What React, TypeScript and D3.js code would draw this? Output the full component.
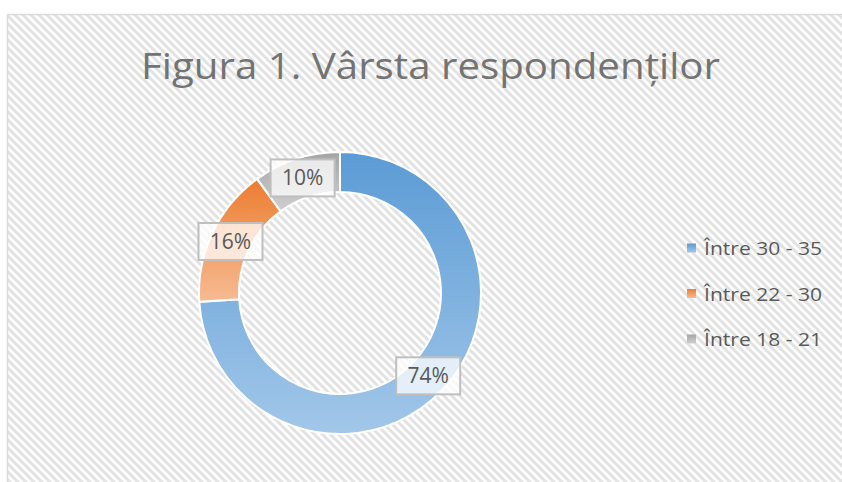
import React from "react";
import * as d3 from "d3";

const categories = ["Între 30 - 35", "Între 22 - 30", "Între 18 - 21"];
const values = [74, 16, 10];
const labels = ["74%", "16%", "10%"];
const colorsTop = ["#5b9bd5", "#ed7d31", "#a5a5a5"];
const colorsBottom = ["#a2c7e9", "#f6bb93", "#cfcfcf"];
const title = "Figura 1. Vârsta respondenților";

const W = 842;
const H = 482;
const cx = 340;
const cy = 293;
const outerR = 141;
const innerR = 101;

export default function App() {
  const pie = d3.pie<number>().sort(null).value((d) => d)(values);
  const arc = d3.arc<d3.PieArcDatum<number>>().innerRadius(innerR).outerRadius(outerR);
  const labelArc = d3
    .arc<d3.PieArcDatum<number>>()
    .innerRadius((innerR + outerR) / 2)
    .outerRadius((innerR + outerR) / 2);
  const legendY = d3.scaleLinear().domain([0, 2]).range([248, 339]);
  const font = "'Open Sans', 'Noto Sans', 'Liberation Sans', sans-serif";

  return (
    <svg
      width={W}
      height={H}
      style={{ position: "absolute", left: 0, top: 0, display: "block" }}
    >
      <defs>
        <pattern id="hatch" width="8" height="8" patternUnits="userSpaceOnUse">
          <rect width="8" height="8" fill="#ffffff" />
          <path
            d="M-2,-2 L10,10 M-10,-2 L2,10 M6,-2 L18,10"
            stroke="#e2e2e2"
            strokeWidth="3"
          />
        </pattern>
        {colorsTop.map((c, i) => (
          <linearGradient key={i} id={`g${i}`} x1="0" y1="0" x2="0" y2="1">
            <stop offset="0" stopColor={c} />
            <stop offset="1" stopColor={colorsBottom[i]} />
          </linearGradient>
        ))}
      </defs>
      <rect x={0} y={0} width={W} height={H} fill="#ffffff" />
      <rect
        x={7.5}
        y={14.5}
        width={W}
        height={H}
        fill="url(#hatch)"
        stroke="#d9d9d9"
        strokeWidth={1.5}
      />
      <text
        x={430.5}
        y={79}
        textAnchor="middle"
        fill="#737373"
        fontFamily={font}
        fontSize={36}
        textLength={579}
        lengthAdjust="spacingAndGlyphs"
      >
        {title}
      </text>
      <g transform={`translate(${cx},${cy})`}>
        {pie.map((d, i) => (
          <path
            key={i}
            d={arc(d) || ""}
            fill={`url(#g${i})`}
            stroke="#ffffff"
            strokeWidth={2}
          />
        ))}
        {pie.map((d, i) => {
          const [lx, ly] = labelArc.centroid(d);
          return (
            <g key={i} transform={`translate(${lx},${ly})`}>
              <rect
                x={-32}
                y={-18.5}
                width={64}
                height={37}
                fill="#ffffff"
                fillOpacity={0.75}
                stroke="#bfbfbf"
                strokeWidth={2}
              />
              <text
                x={0}
                y={7.5}
                textAnchor="middle"
                fill="#595959"
                fontFamily={font}
                fontSize={21}
              >
                {labels[i]}
              </text>
            </g>
          );
        })}
      </g>
      <g>
        {categories.map((c, i) => (
          <g key={i} transform={`translate(0,${legendY(i)})`}>
            <rect x={687} y={-4.5} width={9} height={9} fill={`url(#g${i})`} />
            <text
              x={704}
              y={7}
              fill="#595959"
              fontFamily={font}
              fontSize={18}
              textLength={118}
              lengthAdjust="spacingAndGlyphs"
            >
              {c}
            </text>
          </g>
        ))}
      </g>
    </svg>
  );
}
